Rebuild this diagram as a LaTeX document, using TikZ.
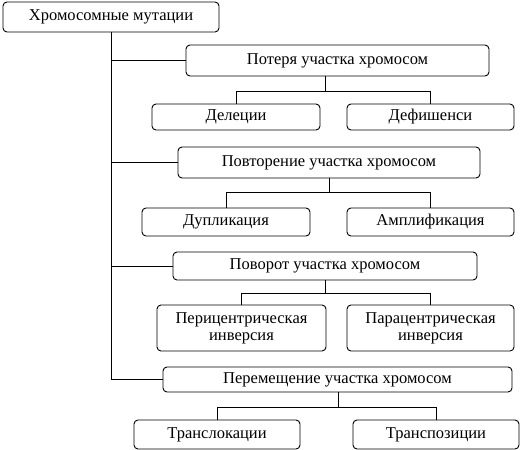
\documentclass[tikz,border=0pt]{standalone}
\usepackage{fontspec}
\setmainfont{Liberation Serif}
\usetikzlibrary{positioning}

\begin{document}
\begin{tikzpicture}[
    x=1pt, y=-1pt,
    box/.style={draw, rounded corners=4pt, align=center, inner sep=0pt,
        line width=0.9pt, font=\fontsize{16.5}{17}\selectfont},
    link/.style={draw, line width=0.9pt}
]
\useasboundingbox (0,0) rectangle (520,450);

\node [box, minimum width=216pt, minimum height=30pt] (root) at (111,17) {Хромосомные мутации};

% loss of a segment
\node [box, minimum width=303pt, minimum height=31pt] (loss) at (337.5,60.5) {Потеря участка хромосом};
\node [box, minimum width=168pt, minimum height=26pt] (del) at (236,117) {Делеции};
\node [box, minimum width=167pt, minimum height=26pt] (def) at (430.5,117) {Дефишенси};

% repeat of a segment
\node [box, minimum width=302pt, minimum height=31pt] (rep) at (329,162.5) {Повторение участка хромосом};
\node [box, minimum width=168pt, minimum height=28pt] (dup) at (226,222) {Дупликация};
\node [box, minimum width=167pt, minimum height=28pt] (amp) at (430.5,222) {Амплификация};

% turn of a segment
\node [box, minimum width=304pt, minimum height=28pt] (turn) at (325,266) {Поворот участка хромосом};
\node [box, minimum width=169pt, minimum height=46pt] (peri) at (241.5,328) {Перицентрическая\\инверсия};
\node [box, minimum width=167pt, minimum height=46pt] (para) at (430.5,328) {Парацентрическая\\инверсия};

% move of a segment
\node [box, minimum width=349pt, minimum height=25pt] (move) at (337.5,379.5) {Перемещение участка хромосом};
\node [box, minimum width=166pt, minimum height=29pt] (trl) at (217,434.5) {Транслокации};
\node [box, minimum width=166pt, minimum height=29pt] (trp) at (436,434.5) {Транспозиции};

\coordinate (lossfork) at (325,91);
\coordinate (repfork) at (329,192);
\coordinate (turnfork) at (325,293);
\coordinate (movefork) at (338,407);

% trunk
\draw [link] (root.south) |- (loss.west);
\draw [link] (root.south) |- (rep.west);
\draw [link] (root.south) |- (turn.west);
\draw [link] (root.south) |- (move.west);

% forks
\draw [link] (lossfork |- loss.south) -- (lossfork) -| (del.north);
\draw [link] (lossfork) -| (def.north);
\draw [link] (repfork |- rep.south) -- (repfork) -| (dup.north);
\draw [link] (repfork) -| (amp.north);
\draw [link] (turnfork |- turn.south) -- (turnfork) -| (peri.north);
\draw [link] (turnfork) -| (para.north);
\draw [link] (movefork |- move.south) -- (movefork) -| (trl.north);
\draw [link] (movefork) -| (trp.north);
\end{tikzpicture}
\end{document}
